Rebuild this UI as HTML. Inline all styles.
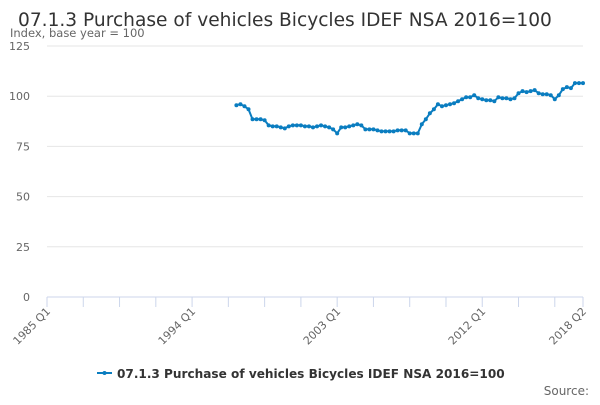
<!DOCTYPE html>
<html><head><meta charset="utf-8"><style>
body{margin:0;background:#fff;font-family:"Liberation Sans",sans-serif}
svg text{font-family:"DejaVu Sans","Liberation Sans",sans-serif}
</style></head><body>
<svg width="600" height="400" xmlns="http://www.w3.org/2000/svg">
<text x="18" y="26" font-size="18.6" fill="#333">07.1.3 Purchase of vehicles Bicycles IDEF NSA 2016=100</text>
<text x="10" y="37" font-size="11.5" fill="#666">Index, base year = 100</text>
<g id="grid"></g><g id="xaxis"></g><g id="series"></g>
<g>
<line x1="97" y1="373" x2="112" y2="373" stroke="#0a7dc0" stroke-width="2"/>
<circle cx="104.5" cy="373" r="2" fill="#0a7dc0"/>
<text x="117" y="378" font-size="12.1" font-weight="bold" fill="#333">07.1.3 Purchase of vehicles Bicycles IDEF NSA 2016=100</text>
</g>
<text x="589" y="395" font-size="12" fill="#666" text-anchor="end">Source:</text>
</svg>
<script>
const yTicks=[0,25,50,75,100,125];
const xTickLabels=["1985 Q1","1994 Q1","2003 Q1","2012 Q1","2018 Q2"];
const xTickIdx=[0,36,72,108,133];
const values=[95.5,96,95,93.5,88.5,88.5,88.5,88,85.5,85,85,84.5,84,85,85.5,85.5,85.5,85,85,84.5,85,85.5,85,84.5,83.5,81.5,84.5,84.5,85,85.5,86,85.5,83.5,83.5,83.5,83,82.5,82.5,82.5,82.5,83,83,83,81.5,81.5,81.5,86,88.5,91.5,93.5,96,95,95.5,96,96.5,97.5,98.5,99.5,99.5,100.5,99,98.5,98,98,97.5,99.5,99,99,98.5,99,101.5,102.5,102,102.5,103,101.5,101,101,100.5,98.5,100.5,103.5,104.5,104,106.5,106.5,106.5];
const NQ=133, X0=47, X1=583, Y0=297, Y1=46;
const xs=i=>X0+(X1-X0)*i/NQ, ys=v=>Y0-(Y0-Y1)*v/125;
const NS="http://www.w3.org/2000/svg";
function mk(t,a,p){const e=document.createElementNS(NS,t);for(const k in a)e.setAttribute(k,a[k]);p.appendChild(e);return e;}
const g=document.getElementById('grid');
yTicks.forEach(v=>{
 const l=mk('line',{x1:X0,x2:X1,y1:ys(v),y2:ys(v),stroke:v===0?'#ccd6eb':'#e6e6e6','stroke-width':1},g);
 
 
 const t=mk('text',{x:30,y:ys(v)+4,'font-size':11,fill:'#666','text-anchor':'end'},g);t.textContent=v;
 
 
});
const xa=document.getElementById('xaxis');
for(let i=0;i<=NQ;i+=9){mk('line',{x1:xs(i),x2:xs(i),y1:297,y2:307,stroke:'#ccd6eb'},xa);}
mk('line',{x1:xs(NQ),x2:xs(NQ),y1:297,y2:307,stroke:'#ccd6eb'},xa);
xTickLabels.forEach((s,k)=>{
 const x=xs(xTickIdx[k]);
 const t=mk('text',{x:x+4,y:312,'font-size':11,fill:'#666','text-anchor':'end',transform:`rotate(-45 ${x+4} 312)`},xa);t.textContent=s;
 
 
});
const sg=document.getElementById('series');
const start=NQ-(values.length-1);
const pts=values.map((v,i)=>xs(start+i).toFixed(1)+','+ys(v).toFixed(1)).join(' ');
const pl=mk('polyline',{points:pts,fill:'none',stroke:'#0a7dc0','stroke-width':2},sg);


values.forEach((v,i)=>{const c=mk('circle',{cx:xs(start+i),cy:ys(v),r:2,fill:'#0a7dc0'},sg);
 
 });
</script>
</body></html>
